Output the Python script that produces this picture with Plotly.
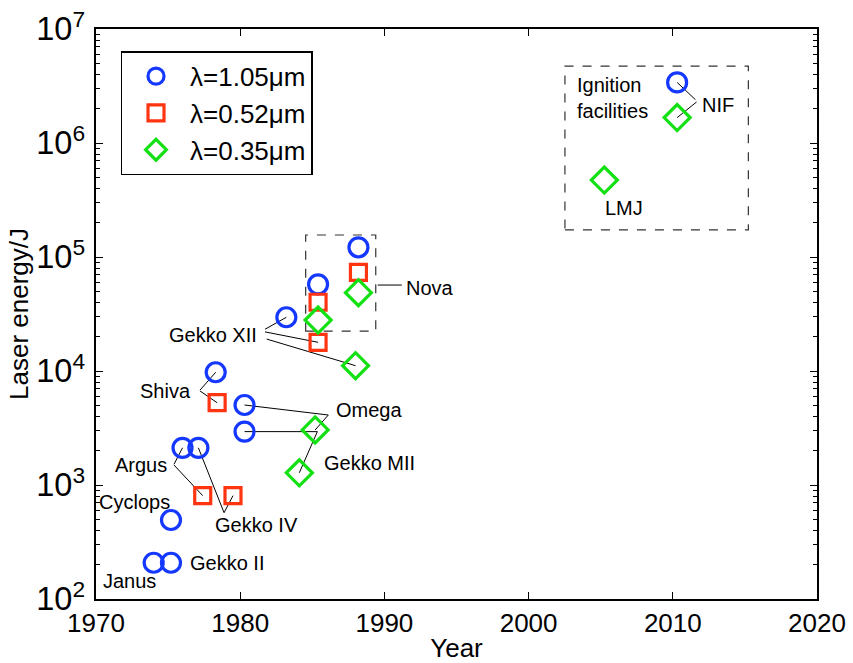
import math
import plotly.graph_objects as go

# ---------------- data ----------------
blue_names = ["Janus", "Gekko II", "Cyclops", "Argus", "Gekko IV", "Shiva", "Omega",
              "Gekko MII", "Gekko XII", "Nova-a", "Nova-b", "NIF"]
blue_year = [1974.0, 1975.2, 1975.2, 1976.0, 1977.1, 1978.3, 1980.3, 1980.3, 1983.2,
             1985.4, 1988.2, 2010.3]
blue_energy = [208, 208, 493, 2120, 2120, 9750, 5030, 2940, 29600, 57600, 121700, 3.4e6]

red_names = ["Argus", "Gekko IV", "Shiva", "Gekko XII", "Nova-a", "Nova-b"]
red_year = [1977.4, 1979.5, 1978.4, 1985.4, 1985.4, 1988.2]
red_energy = [806, 806, 5270, 17850, 40100, 73400]

green_names = ["Gekko MII", "Omega", "Gekko XII", "Nova-a", "Nova-b", "LMJ", "NIF"]
green_year = [1984.1, 1985.2, 1988.0, 1985.4, 1988.2, 2005.25, 2010.3]
green_energy = [1280, 3040, 11130, 28000, 48600, 473000, 1.67e6]

series_labels = ["λ=1.05μm", "λ=0.52μm", "λ=0.35μm"]
x_ticks = [1970, 1980, 1990, 2000, 2010, 2020]

# label texts and their positions (year, log10 energy, anchor)
labels = [
    ("Janus", 1972.3, 2.158, "center"),
    ("Gekko II", 1976.4, 2.318, "left"),
    ("Cyclops", 1972.7, 2.855, "center"),
    ("Argus", 1973.15, 3.175, "center"),
    ("Gekko IV", 1981.1, 2.649, "center"),
    ("Shiva", 1974.85, 3.825, "center"),
    ("Omega", 1988.95, 3.658, "center"),
    ("Gekko MII", 1988.95, 3.197, "center"),
    ("Gekko XII", 1978.1, 4.320, "center"),
    ("Nova", 1993.15, 4.732, "center"),
    ("Ignition<br>facilities", 2003.2, 6.399, "left"),
    ("NIF", 2013.1, 6.329, "center"),
    ("LMJ", 2006.6, 5.427, "center"),
]

# leader lines: (start year, start log10 energy, series, facility name)
leaders = [
    (1975.41, 3.182, "blue", "Argus"),
    (1975.41, 3.175, "red", "Argus"),
    (1978.88, 2.757, "blue", "Gekko IV"),
    (1978.88, 2.757, "red", "Gekko IV"),
    (1977.21, 3.832, "blue", "Shiva"),
    (1977.21, 3.825, "red", "Shiva"),
    (1986.11, 3.614, "blue", "Omega"),
    (1986.11, 3.614, "green", "Omega"),
    (1985.35, 3.468, "blue", "Gekko MII"),
    (1985.35, 3.468, "green", "Gekko MII"),
    (1981.72, 4.366, "blue", "Gekko XII"),
    (1981.72, 4.343, "red", "Gekko XII"),
    (1981.84, 4.280, "green", "Gekko XII"),
    (2011.57, 6.380, "blue", "NIF"),
    (2011.65, 6.360, "green", "NIF"),
]

# dashed group boxes: (x0, x1, E0, E1)
boxes = [
    (1984.54, 1989.40, 22400, 156000),
    (2002.52, 2015.24, 173000, 4.73e6),
]
nova_tick = (1989.54, 1991.21, 4.754)

BLUE = "#1438ff"
RED = "#ff3512"
GREEN = "#12e012"
FONT = "Liberation Sans, Arial, Helvetica, sans-serif"

series = {
    "blue": (blue_names, blue_year, blue_energy),
    "red": (red_names, red_year, red_energy),
    "green": (green_names, green_year, green_energy),
}

fig = go.Figure()
fig.add_trace(go.Scatter(x=blue_year, y=blue_energy, mode="markers", name=series_labels[0],
                         marker=dict(symbol="circle-open", size=19, color=BLUE,
                                     line=dict(width=3.2, color=BLUE))))
fig.add_trace(go.Scatter(x=red_year, y=red_energy, mode="markers", name=series_labels[1],
                         marker=dict(symbol="square-open", size=16, color=RED,
                                     line=dict(width=3.2, color=RED))))
fig.add_trace(go.Scatter(x=green_year, y=green_energy, mode="markers", name=series_labels[2],
                         marker=dict(symbol="diamond-open", size=20, color=GREEN,
                                     line=dict(width=3.2, color=GREEN))))

shapes = []
for sx, sly, key, nm in leaders:
    names, ys, es = series[key]
    i = names.index(nm)
    shapes.append(dict(type="line", xref="x", yref="y", x0=sx, y0=10 ** sly,
                       x1=ys[i], y1=es[i], line=dict(color="black", width=1), layer="below"))
shapes.append(dict(type="line", xref="x", yref="y", x0=nova_tick[0], x1=nova_tick[1],
                   y0=10 ** nova_tick[2], y1=10 ** nova_tick[2],
                   line=dict(color="black", width=1)))
for x0, x1, e0, e1 in boxes:
    shapes.append(dict(type="rect", xref="x", yref="y", x0=x0, x1=x1, y0=e0, y1=e1,
                       line=dict(color="#333333", width=1.2, dash="dash"), layer="below"))

annotations = []
for txt, lx, ly, anc in labels:
    annotations.append(dict(text=txt, x=lx, y=ly, xref="x", yref="y", showarrow=False,
                            xanchor=anc, yanchor="middle", align="left",
                            font=dict(size=20, color="black", family=FONT)))

fig.update_layout(
    width=853, height=663,
    margin=dict(l=96, r=36, t=29, b=64),
    paper_bgcolor="white", plot_bgcolor="white",
    font=dict(family=FONT, color="black", size=25),
    shapes=shapes, annotations=annotations,
    showlegend=True,
    legend=dict(x=0.034, y=0.961, xanchor="left", yanchor="top",
                bgcolor="white", bordercolor="black", borderwidth=1.5,
                font=dict(size=26, family=FONT), itemwidth=58,
                tracegroupgap=0),
)
fig.update_xaxes(
    range=[1970, 2020], tickmode="array", tickvals=x_ticks,
    ticks="inside", ticklen=7, tickwidth=1, tickcolor="black",
    showline=True, linecolor="black", linewidth=1.5, mirror="allticks",
    showgrid=False, zeroline=False, automargin=False,
    title=dict(text="Year", font=dict(size=26), standoff=10),
    tickfont=dict(size=26), ticklabelstandoff=0,
)
fig.update_yaxes(
    type="log", range=[2, 7], dtick=1, exponentformat="power",
    ticks="inside", ticklen=7, tickwidth=1, tickcolor="black",
    minor=dict(ticks="inside", ticklen=4, tickcolor="black", showgrid=False),
    showline=True, linecolor="black", linewidth=1.5, mirror="allticks",
    showgrid=False, zeroline=False, automargin=False,
    title=dict(text="Laser energy/J", font=dict(size=26), standoff=0),
    tickfont=dict(size=26), ticklabelstandoff=4,
)

fig.write_html("out.html")
